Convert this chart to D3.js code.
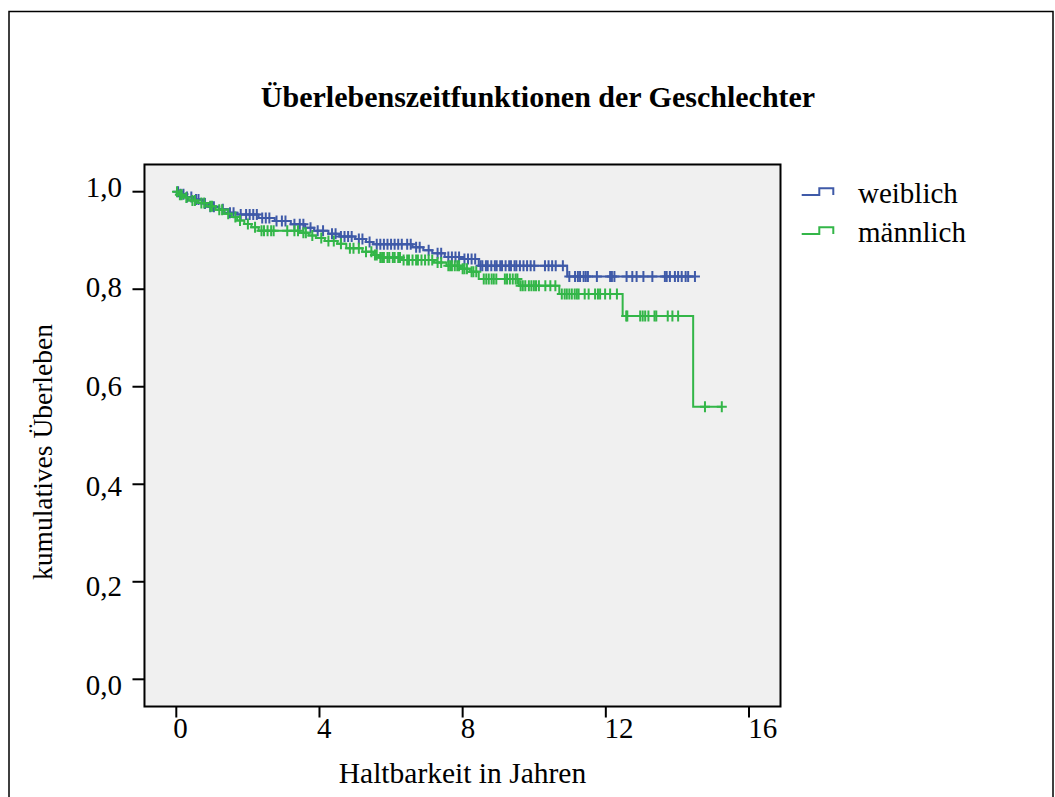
<!DOCTYPE html>
<html>
<head>
<meta charset="utf-8">
<script src="https://cdn.jsdelivr.net/npm/d3@7"></script>
<style>
  html, body { margin: 0; padding: 0; background: #ffffff; }
  svg { display: block; font-family: "Liberation Serif", "Times New Roman", serif; }
</style>
</head>
<body>
<svg id="chart" width="1055" height="797"></svg>
<script>
// Kaplan-Meier estimates: event times and survival after each step
const weiblichTimes = [0.10, 0.24, 0.50, 0.75, 0.90, 1.20, 1.45, 1.70, 2.30, 2.75, 3.20, 3.60, 3.85, 4.25, 4.55, 5.00, 5.30, 5.50, 6.60, 6.90, 7.15, 7.50, 8.00, 8.45, 10.92];
const weiblichSurv  = [0.995, 0.989, 0.984, 0.976, 0.969, 0.964, 0.957, 0.953, 0.946, 0.940, 0.933, 0.926, 0.920, 0.914, 0.908, 0.903, 0.897, 0.892, 0.886, 0.880, 0.874, 0.866, 0.862, 0.848, 0.826];
const weiblichCensored = [
  0.05, 0.12, 0.20, 0.30, 0.42, 0.55, 0.62, 0.80, 0.95,
  1.05, 1.30, 1.50, 1.60, 1.80, 1.95,
  2.05, 2.15, 2.25, 2.40, 2.50, 2.60, 2.80, 2.95,
  3.05, 3.30, 3.45, 3.55, 3.75, 3.95,
  4.10, 4.35, 4.45, 4.60, 4.70, 4.80, 4.90,
  5.10, 5.20, 5.40, 5.60, 5.70, 5.80, 5.90, 6.00,
  6.10, 6.20, 6.30, 6.45, 6.55, 6.70, 6.80,
  7.05, 7.30, 7.40, 7.60, 7.70, 7.80, 7.90,
  8.05, 8.15, 8.25, 8.35,
  8.50, 8.55, 8.65, 8.70, 8.80, 8.90, 8.95, 9.05, 9.10, 9.20, 9.30, 9.35, 9.45, 9.50,
  9.60, 9.70, 9.80, 9.90, 10.00, 10.30, 10.40, 10.50, 10.60, 10.80,
  10.98, 11.14, 11.22, 11.28, 11.38, 11.44, 11.50, 11.75, 12.12, 12.17, 12.24,
  12.58, 12.74, 12.86, 13.05, 13.30, 13.65, 13.70, 13.79, 13.93, 14.02, 14.12, 14.23, 14.30, 14.49
];

const maennlichTimes = [0.05, 0.20, 0.35, 0.60, 0.85, 1.10, 1.35, 1.55, 1.70, 1.90, 2.10, 2.30, 3.45, 3.70, 3.90, 4.15, 4.50, 4.75, 5.20, 5.50, 5.65, 6.30, 7.20, 7.55, 7.95, 8.20, 8.45, 9.57, 10.70, 12.47, 14.44];
const maennlichSurv  = [0.994, 0.988, 0.982, 0.977, 0.970, 0.963, 0.955, 0.948, 0.941, 0.934, 0.927, 0.920, 0.916, 0.910, 0.905, 0.899, 0.893, 0.884, 0.877, 0.870, 0.865, 0.860, 0.855, 0.848, 0.842, 0.836, 0.821, 0.807, 0.790, 0.745, 0.559];
const maennlichCensored = [
  0.02, 0.10, 0.15, 0.28, 0.45, 0.52, 0.70, 0.78, 0.95, 1.00,
  1.20, 1.28, 1.45, 1.65, 1.78, 2.00, 2.20,
  2.38, 2.45, 2.55, 2.65, 2.72, 3.10, 3.30, 3.40, 3.55, 3.62, 3.80,
  4.05, 4.25, 4.40, 4.60, 4.85, 4.95, 5.10, 5.30,
  5.45, 5.55, 5.60, 5.70, 5.75, 5.80, 5.90, 5.95, 6.05, 6.10, 6.20, 6.25, 6.35, 6.45, 6.50,
  6.60, 6.70, 6.75, 6.85, 6.95, 7.05, 7.15, 7.30, 7.40,
  7.60, 7.65, 7.70, 7.78, 7.85, 7.90, 8.00, 8.05, 8.12, 8.25, 8.30, 8.38,
  8.59, 8.66, 8.73, 8.81, 8.87, 8.94, 9.18, 9.24, 9.32, 9.40, 9.48, 9.53,
  9.62, 9.68, 9.75, 9.85, 9.92, 9.99, 10.05, 10.13, 10.31, 10.45, 10.59,
  10.77, 10.85, 10.91, 10.98, 11.05, 11.13, 11.19, 11.24, 11.41, 11.52, 11.70, 11.78, 11.84, 11.98, 12.12, 12.31,
  12.57, 12.60, 12.96, 13.03, 13.10, 13.19, 13.36, 13.41, 13.73, 13.86, 14.02,
  14.77, 15.24
];

const xTickValues = [0, 4, 8, 12, 16];
const xTickLabels = ["0", "4", "8", "12", "16"];
const yTickValues = [0, 0.2, 0.4, 0.6, 0.8, 1.0];
const yTickLabels = ["0,0", "0,2", "0,4", "0,6", "0,8", "1,0"];

const seriesNames = ["weiblich", "männlich"];
const seriesColors = ["#3f5aa8", "#33b648"];

const titleText = "Überlebenszeitfunktionen der Geschlechter";
const xTitle = "Haltbarkeit in Jahren";
const yTitle = "kumulatives Überleben";

// ---- layout ----
const svg = d3.select("#chart");
const x = d3.scaleLinear().domain([0, 16]).range([176.3, 749]);
const y = d3.scaleLinear().domain([0, 1]).range([679.3, 191.7]);
// tick labels sit on a slightly wider grid than the tick marks
const xLab = d3.scaleLinear().domain([0, 16]).range([173.3, 748.3]);
const yLab = d3.scaleLinear().domain([0, 1]).range([695.3, 196.8]);
const plotDomainX = [-0.889, 16.88];
const plotDomainY = [-0.0558, 1.0558];

// outer frame
svg.append("rect")
  .attr("x", 9).attr("y", 11.5)
  .attr("width", 1044).attr("height", 800)
  .attr("fill", "#fff").attr("stroke", "#000").attr("stroke-width", 1.5);

// title
svg.append("text")
  .attr("x", 538).attr("y", 107)
  .attr("text-anchor", "middle")
  .attr("font-size", 30).attr("font-weight", "bold")
  .attr("fill", "#000")
  .text(titleText);

// plot area
const px0 = x(plotDomainX[0]), px1 = x(plotDomainX[1]);
const py0 = y(plotDomainY[1]), py1 = y(plotDomainY[0]);
svg.append("rect")
  .attr("x", px0).attr("y", py0)
  .attr("width", px1 - px0).attr("height", py1 - py0)
  .attr("fill", "#f0f0f0").attr("stroke", "none");

// step curves
function stepPoints(times, surv, censored) {
  const pts = [[0, 1]];
  times.forEach((t, i) => pts.push([t, surv[i]]));
  const last = Math.max(times[times.length - 1], d3.max(censored));
  pts.push([last, surv[surv.length - 1]]);
  return pts;
}
function survAt(times, surv, t) {
  const i = d3.bisectRight(times, t);
  return i === 0 ? 1 : surv[i - 1];
}

const line = d3.line()
  .x(d => x(d[0]))
  .y(d => y(d[1]))
  .curve(d3.curveStepAfter);

const series = [
  { times: weiblichTimes, surv: weiblichSurv, cens: weiblichCensored, color: seriesColors[0] },
  { times: maennlichTimes, surv: maennlichSurv, cens: maennlichCensored, color: seriesColors[1] }
];

series.forEach(s => {
  const g = svg.append("g");
  g.append("path")
    .datum(stepPoints(s.times, s.surv, s.cens))
    .attr("d", line)
    .attr("fill", "none")
    .attr("stroke", s.color)
    .attr("stroke-width", 2);
  g.selectAll("path.cens")
    .data(s.cens)
    .join("path")
    .attr("class", "cens")
    .attr("d", t => {
      const cx = x(t), cy = y(survAt(s.times, s.surv, t));
      return `M${cx - 5},${cy}H${cx + 5}M${cx},${cy - 5.5}V${cy + 5.5}`;
    })
    .attr("fill", "none")
    .attr("stroke", s.color)
    .attr("stroke-width", 2);
});

// plot frame on top
svg.append("rect")
  .attr("x", px0).attr("y", py0)
  .attr("width", px1 - px0).attr("height", py1 - py0)
  .attr("fill", "none").attr("stroke", "#000").attr("stroke-width", 2);

// x axis ticks and labels
const xAxis = svg.append("g");
xAxis.selectAll("line")
  .data(xTickValues)
  .join("line")
  .attr("x1", d => x(d)).attr("x2", d => x(d))
  .attr("y1", py1).attr("y2", py1 + 11)
  .attr("stroke", "#000").attr("stroke-width", 2);
xAxis.selectAll("text")
  .data(xTickValues)
  .join("text")
  .attr("x", d => xLab(d)).attr("y", 738)
  .attr("font-size", 29)
  .attr("fill", "#000")
  .text((d, i) => xTickLabels[i]);

// y axis ticks and labels
const yAxis = svg.append("g");
yAxis.selectAll("line")
  .data(yTickValues)
  .join("line")
  .attr("x1", px0 - 12).attr("x2", px0)
  .attr("y1", d => y(d)).attr("y2", d => y(d))
  .attr("stroke", "#000").attr("stroke-width", 2);
yAxis.selectAll("text")
  .data(yTickValues)
  .join("text")
  .attr("x", 122).attr("y", d => yLab(d))
  .attr("text-anchor", "end")
  .attr("font-size", 29)
  .attr("fill", "#000")
  .text((d, i) => yTickLabels[i]);

// axis titles
svg.append("text")
  .attr("x", (px0 + px1) / 2).attr("y", 783)
  .attr("text-anchor", "middle")
  .attr("font-size", 29.5)
  .attr("fill", "#000")
  .text(xTitle);
svg.append("text")
  .attr("transform", "translate(52,452) rotate(-90)")
  .attr("text-anchor", "middle")
  .attr("font-size", 27.5)
  .attr("fill", "#000")
  .text(yTitle);

// legend
const legend = svg.append("g");
seriesNames.forEach((name, i) => {
  const ly = 191.7 + i * 39;
  legend.append("path")
    .attr("d", `M801.7,${ly + 3.3}H819.3V${ly - 3.4}H833.3V${ly + 3.3}`)
    .attr("fill", "none")
    .attr("stroke", seriesColors[i])
    .attr("stroke-width", 2);
  legend.append("text")
    .attr("x", 858).attr("y", ly + 11.6)
    .attr("font-size", 29)
    .attr("fill", "#000")
    .text(name);
});
</script>
</body>
</html>
